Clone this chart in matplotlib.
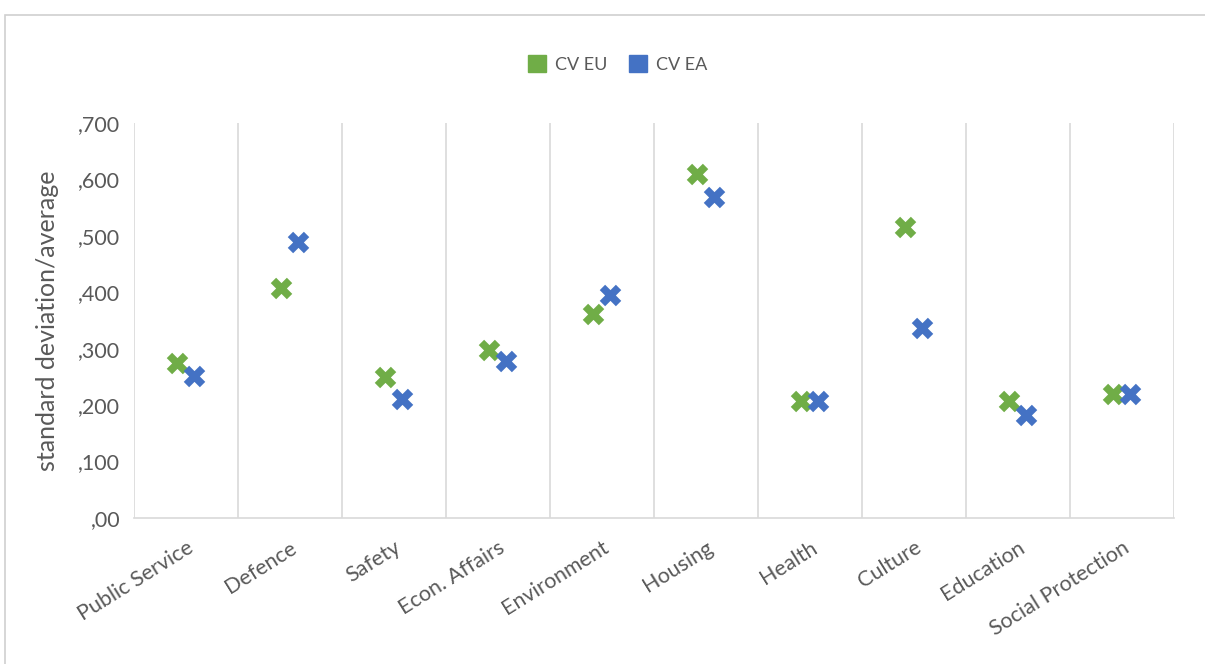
import matplotlib.pyplot as plt
import numpy as np
from matplotlib.patches import Rectangle, Patch

categories = ["Public Service", "Defence", "Safety", "Econ. Affairs", "Environment",
              "Housing", "Health", "Culture", "Education", "Social Protection"]
cv_eu = [0.275, 0.408, 0.250, 0.298, 0.361, 0.610, 0.208, 0.516, 0.208, 0.219]
cv_ea = [0.252, 0.489, 0.211, 0.278, 0.395, 0.569, 0.208, 0.337, 0.183, 0.219]
yticks = [0, 0.1, 0.2, 0.3, 0.4, 0.5, 0.6, 0.7]
ytick_labels = [",00", ",100", ",200", ",300", ",400", ",500", ",600", ",700"]

green = "#70AD47"
blue = "#4472C4"
grey = "#595959"

plt.rcParams['font.family'] = ['Lato', 'DejaVu Sans']

fig = plt.figure(figsize=(12.05, 6.64), dpi=100)
ax = fig.add_axes([134/1205, 1 - 518/664, 1040/1205, 395/664])

# outer frame of the chart box
fig.patches.append(Rectangle((5/1205, -0.01), 1.1, (664 - 15)/664 + 0.01,
                             transform=fig.transFigure, fill=False,
                             edgecolor="#D0D0D0", linewidth=1.2))

x = np.arange(len(categories))
ax.scatter(x - 0.09, cv_eu, marker="X", s=240, color=green, linewidths=0, zorder=3)
ax.scatter(x + 0.08, cv_ea, marker="X", s=240, color=blue, linewidths=0, zorder=3)

ax.set_xlim(-0.5, len(categories) - 0.5)
ax.set_ylim(0, 0.7)
for b in np.arange(-0.5, len(categories), 1.0):
    ax.axvline(b, color="#D9D9D9", linewidth=1.2, zorder=1)

ax.set_yticks(yticks)
ax.set_yticklabels(ytick_labels, fontsize=15.5, color=grey)
ax.set_xticks(x)
ax.set_xticklabels(categories, rotation=32, ha="right", rotation_mode="anchor",
                   fontsize=15.5, color=grey)
ax.tick_params(axis="both", length=0, pad=10)
ax.tick_params(axis="x", pad=14)

for s in ["top", "right", "left"]:
    ax.spines[s].set_visible(False)
ax.spines["bottom"].set_color("#D9D9D9")
ax.spines["bottom"].set_linewidth(1.2)

ax.set_ylabel("standard deviation/average", fontsize=18, color=grey, labelpad=14)

handles = [Patch(color=green, label="CV EU"), Patch(color=blue, label="CV EA")]
fig.legend(handles=handles, loc="center", bbox_to_anchor=(618/1205, 1 - 64/664),
           ncol=2, frameon=False, fontsize=13, handlelength=1.0, handleheight=1.0,
           columnspacing=1.2, handletextpad=0.5, labelcolor=grey)

fig.savefig("out.png", dpi=100, facecolor="white")
